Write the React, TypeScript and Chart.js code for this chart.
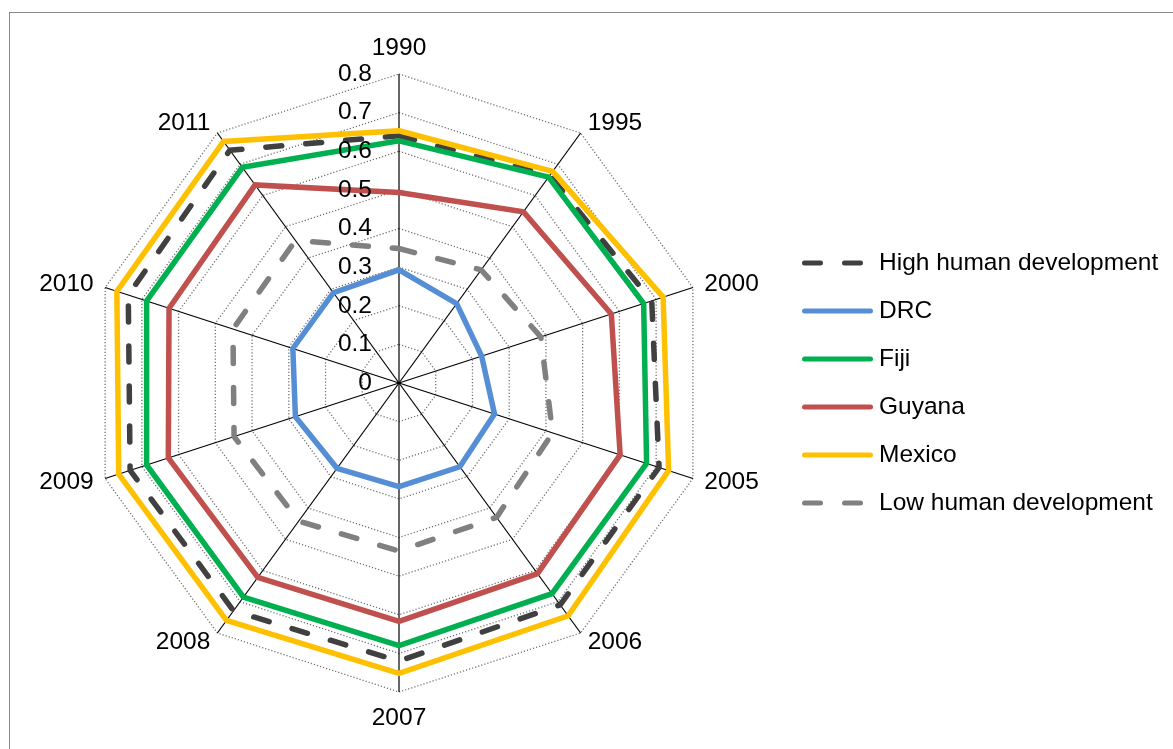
import { useEffect, useRef } from 'react';
import { Chart, registerables } from 'chart.js';

Chart.register(...registerables);

// Human Development Index by year
const years = ['1990', '1995', '2000', '2005', '2006', '2007', '2008', '2009', '2010', '2011'];
const highHumanDevelopment = [0.640, 0.664, 0.688, 0.708, 0.710, 0.720, 0.729, 0.732, 0.737, 0.745];
const drc = [0.293, 0.254, 0.225, 0.260, 0.268, 0.268, 0.273, 0.282, 0.289, 0.289];
const fiji = [0.627, 0.659, 0.666, 0.674, 0.674, 0.680, 0.685, 0.687, 0.687, 0.690];
const guyana = [0.493, 0.548, 0.578, 0.602, 0.610, 0.617, 0.622, 0.628, 0.626, 0.634];
const mexico = [0.653, 0.677, 0.719, 0.734, 0.745, 0.752, 0.760, 0.763, 0.768, 0.773];
const lowHumanDevelopment = [0.348, 0.362, 0.386, 0.418, 0.430, 0.435, 0.442, 0.449, 0.452, 0.456];

const tickValues = [0, 0.1, 0.2, 0.3, 0.4, 0.5, 0.6, 0.7, 0.8];
const tickLabels = ['0', '0.1', '0.2', '0.3', '0.4', '0.5', '0.6', '0.7', '0.8'];

const seriesNames = ['High human development', 'DRC', 'Fiji', 'Guyana', 'Mexico', 'Low human development'];
const seriesValues = [highHumanDevelopment, drc, fiji, guyana, mexico, lowHumanDevelopment];
const seriesColors = ['#404040', '#558ed5', '#00b050', '#c0504d', '#ffc000', '#808080'];
const seriesDashed = [true, false, false, false, false, true];

const FONT = "24.5px 'Liberation Sans', Arial, sans-serif";
const LINE_WIDTH = 5.5;
const DASH = [16, 24];

// Draws value labels, category labels and the legend on top of the radar
const radarTextPlugin = {
  id: 'radarText',
  afterDraw(chart: any) {
    const scale = chart.scales.r;
    const ctx: CanvasRenderingContext2D = chart.ctx;
    ctx.save();
    ctx.font = FONT;
    ctx.fillStyle = '#000';
    ctx.textBaseline = 'middle';

    // value labels along the first spoke
    ctx.textAlign = 'right';
    tickValues.forEach((v, i) => {
      const d = scale.getDistanceFromCenterForValue(v);
      ctx.fillText(tickLabels[i], scale.xCenter - 27, scale.yCenter - d);
    });

    // category labels around the outside
    const r = scale.drawingArea + 12;
    years.forEach((label, i) => {
      const p = scale.getPointPosition(i, r);
      const deg = ((Math.round(((p.angle + Math.PI / 2) * 180) / Math.PI) % 360) + 360) % 360;
      let y = p.y;
      if (deg === 0) {
        ctx.textAlign = 'center';
        y -= 14;
      } else if (deg === 180) {
        ctx.textAlign = 'center';
        y += 14;
      } else if (deg < 180) {
        ctx.textAlign = 'left';
      } else {
        ctx.textAlign = 'right';
      }
      ctx.fillText(label, p.x, y);
    });

    // legend
    const legendLeft = 802;
    const legendLine = 71;
    const rowGap = 48;
    const n = chart.data.datasets.length;
    chart.data.datasets.forEach((ds: any, i: number) => {
      const y = scale.yCenter + (i - (n - 1) / 2) * rowGap;
      ctx.beginPath();
      ctx.strokeStyle = ds.borderColor;
      ctx.lineWidth = 5;
      ctx.lineCap = 'round';
      ctx.setLineDash(ds.borderDash || []);
      ctx.moveTo(legendLeft + 2.5, y);
      ctx.lineTo(legendLeft + legendLine - 2.5, y);
      ctx.stroke();
      ctx.setLineDash([]);
      ctx.textAlign = 'left';
      ctx.fillStyle = '#000';
      ctx.fillText(ds.label, legendLeft + legendLine + 6, y);
    });
    ctx.restore();
  },
};

export default function App() {
  const canvasRef = useRef<HTMLCanvasElement | null>(null);

  useEffect(() => {
    if (!canvasRef.current) return;
    const datasets = seriesNames.map((name, i) => ({
      label: name,
      data: seriesValues[i],
      borderColor: seriesColors[i],
      backgroundColor: seriesColors[i],
      borderWidth: LINE_WIDTH,
      borderDash: seriesDashed[i] ? DASH : [],
      borderCapStyle: seriesDashed[i] ? 'round' : 'butt',
      borderJoinStyle: 'miter',
      fill: false,
      pointRadius: 0,
      pointHoverRadius: 0,
      tension: 0,
      order: seriesNames.length - i,
    }));

    const chart = new Chart(canvasRef.current, {
      type: 'radar',
      data: { labels: years, datasets: datasets as any },
      options: {
        responsive: false,
        animation: false,
        layout: { padding: { left: 90, top: 74, right: 465, bottom: 57 } },
        plugins: {
          legend: { display: false },
          tooltip: { enabled: false },
        },
        scales: {
          r: {
            min: 0,
            max: 0.8,
            startAngle: 0,
            ticks: { display: false, stepSize: 0.1 },
            grid: { circular: false, color: '#707070', lineWidth: 1.3 },
            border: { dash: [1.2, 2] },
            angleLines: { display: true, color: '#000000', lineWidth: 1.2 },
            pointLabels: { display: false },
          } as any,
        },
      },
      plugins: [radarTextPlugin],
    });
    return () => chart.destroy();
  }, []);

  return (
    <>
      <div
        style={{
          position: 'fixed',
          left: 9,
          top: 12,
          width: 1200,
          height: 800,
          border: '1px solid #888888',
          background: '#ffffff',
        }}
      />
      <canvas
        ref={canvasRef}
        width={1173}
        height={749}
        style={{ position: 'fixed', left: 0, top: 0, width: 1173, height: 749 }}
      />
    </>
  );
}
